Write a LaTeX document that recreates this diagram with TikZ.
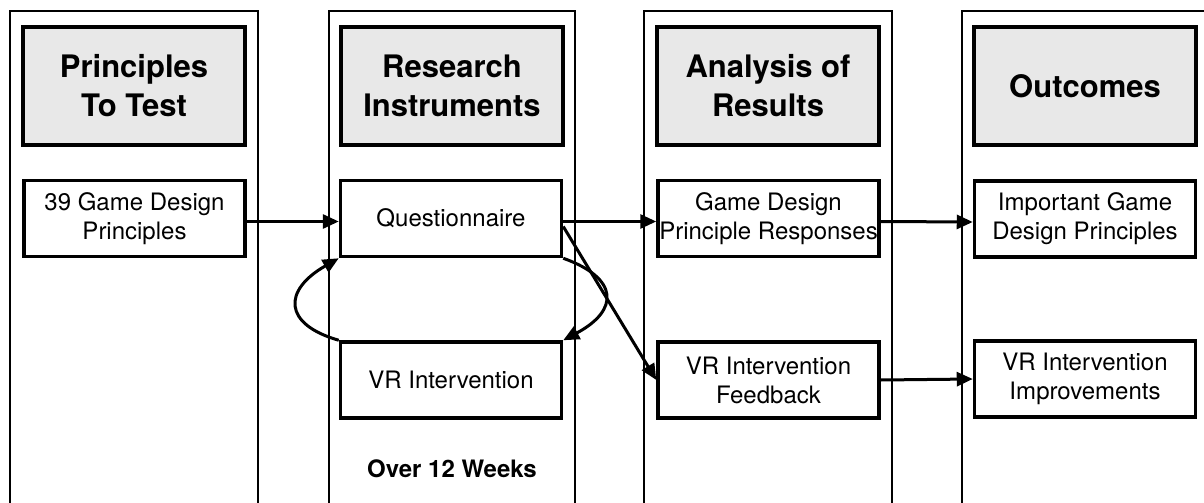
\documentclass[tikz,border=0pt]{standalone}
\usepackage{fontspec}
\setmainfont{TeX Gyre Heros}
\usetikzlibrary{arrows.meta}
\definecolor{hdrfill}{RGB}{232,232,232}
\tikzset{
  lane/.style={draw=black, line width=1.8pt},
  header/.style={draw=black, fill=hdrfill, line width=4pt, minimum width=222pt,
    minimum height=118pt, align=center, inner sep=0pt,
    font=\bfseries\fontsize{31}{39}\selectfont},
  stepbox/.style={draw=black, line width=3.5pt, minimum width=221pt, minimum height=76pt,
    align=center, inner sep=0pt, font=\fontsize{24}{29}\selectfont},
  flow/.style={line width=3pt, -{Triangle[length=16pt,width=14pt]}},
}
\begin{document}
\begin{tikzpicture}[x=1pt, y=-1pt]
\useasboundingbox (0,0) rectangle (1204,503);
\fill[white] (0,0) rectangle (1204,503);

% column frames (open at the bottom edge)
\foreach \l/\r in {10/258, 329/575, 644/892, 962/1210}
  \draw[lane] (\l,520) -- (\l,11) -- (\r,11) -- (\r,520);

% column headings
\node[header] (h1) at (134,86) {Principles\\To Test};
\node[header] (h2) at (452,86) {Research\\Instruments};
\node[header] (h3) at (768,86) {Analysis of\\Results};
\node[header] (h4) at (1085,86) {Outcomes};

% steps
\node[stepbox] (gdp39) at (134.5,218.5) {39 Game Design\\Principles};
\node[stepbox] (quest) at (451,218.5) {Questionnaire};
\node[stepbox] (vrint) at (451,380) {VR Intervention};
\node[stepbox] (resp)  at (768.5,218.5) {Game Design\\Principle Responses};
\node[stepbox] (feed)  at (768.5,380) {VR Intervention\\Feedback};
\node[stepbox] (imp)   at (1085,219) {Important Game\\Design Principles};
\node[stepbox] (vrimp) at (1085,379) {VR Intervention\\Improvements};

\node[font=\bfseries\fontsize{24}{29}\selectfont, anchor=base] (weeks) at (452,477) {Over 12 Weeks};

% connectors
\draw[flow] ([yshift=-3pt]gdp39.east) -- ([yshift=-3pt]quest.west);
\draw[flow] ([yshift=-3pt]quest.east) -- ([yshift=-3pt]resp.west);
\draw[flow] ([yshift=-8pt]quest.east) -- (feed.west);
\draw[flow] ([yshift=-3pt]resp.east) -- ([yshift=-3pt]imp.west);
\draw[flow] (feed.east) -- (vrimp.west);

% iteration loop between questionnaire and intervention
\draw[flow] (vrint.north west) .. controls +(-56,-16) and +(-56,32) .. (quest.south west);
\draw[flow] (quest.south east) .. controls +(56,20) and +(56,-30) .. (vrint.north east);
\end{tikzpicture}
\end{document}
